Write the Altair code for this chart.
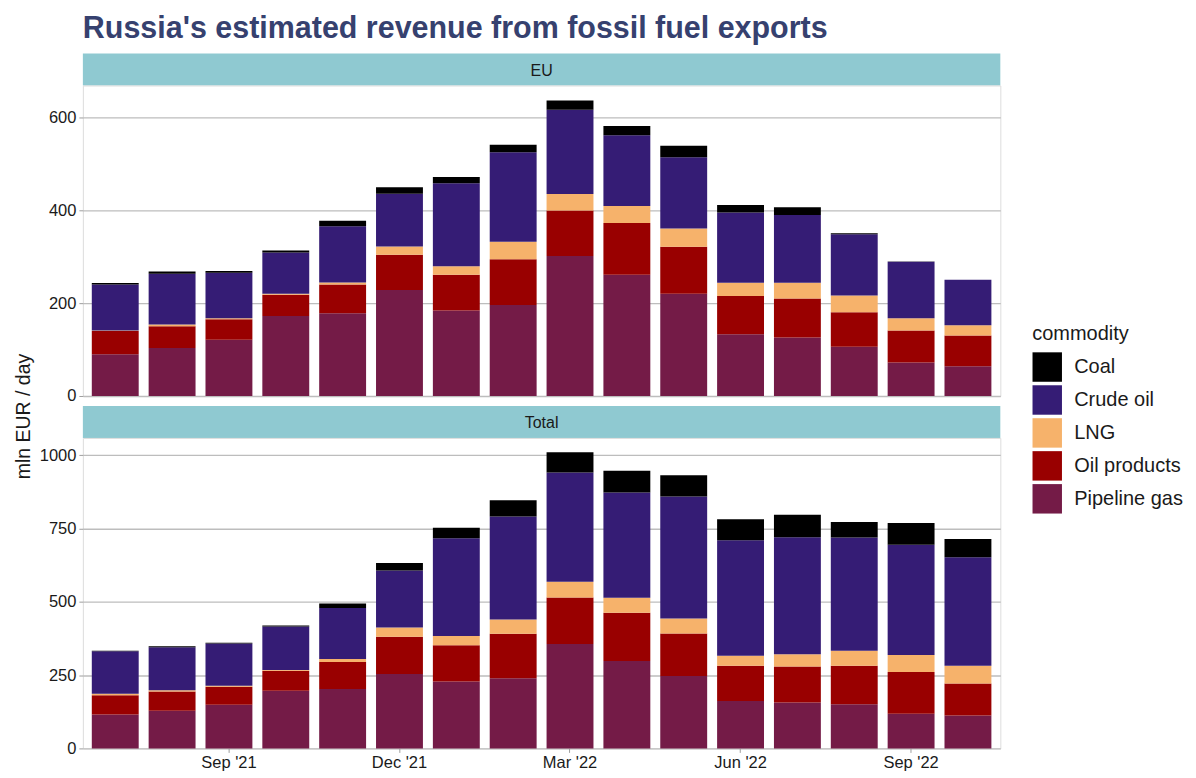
import altair as alt
import pandas as pd

months = ["Jul '21", "Aug '21", "Sep '21", "Oct '21", "Nov '21", "Dec '21",
          "Jan '22", "Feb '22", "Mar '22", "Apr '22", "May '22", "Jun '22",
          "Jul '22", "Aug '22", "Sep '22", "Oct '22"]
tick_months = ["Sep '21", "Dec '21", "Mar '22", "Jun '22", "Sep '22"]

commodities = ["Coal", "Crude oil", "LNG", "Oil products", "Pipeline gas"]
colors = ["#000000", "#351c75", "#f6b26b", "#990000", "#741b47"]
stack_rank = {"Pipeline gas": 0, "Oil products": 1, "LNG": 2, "Crude oil": 3, "Coal": 4}

# EU (mln EUR / day)
eu_pipeline = [90, 103, 121, 172, 178, 228, 184, 196, 301, 261, 220, 133, 126, 106, 72, 64]
eu_oilprod = [50, 47, 44, 46, 62, 76, 77, 98, 98, 111, 101, 82, 84, 74, 69, 66]
eu_lng = [1, 4, 2.5, 2, 4, 17.5, 18, 38, 35.5, 37, 39.5, 28.5, 33.5, 36, 26.5, 22]
eu_crude = [99, 109, 97.5, 89, 121, 113.5, 178.6, 192.5, 181.5, 152, 153, 151.5, 146, 132, 121.5, 98]
eu_coal = [3, 5, 4, 4, 12, 14, 13.4, 16, 20, 20, 25, 16, 16.5, 2, 0.5, 0]

# Total (mln EUR / day)
tot_pipeline = [115.6, 128, 148.5, 197, 203, 254, 228, 239, 356, 298, 247, 162, 156.5, 151, 118, 112]
tot_oilprod = [65.4, 66, 61.5, 68, 92, 127, 123.5, 152, 159, 164.6, 145, 120, 122.5, 131, 143, 109]
tot_lng = [5, 4, 4, 2.6, 10, 31.7, 31.5, 49, 53, 51, 51, 34, 42, 51, 57.6, 61]
tot_crude = [145, 147, 144, 148.4, 173.5, 194, 333.5, 351, 373, 359.4, 416, 394, 399, 386, 376.4, 370]
tot_coal = [2, 3, 2.5, 3.5, 15.5, 26, 36.5, 55, 69, 73.7, 73, 72, 77, 53, 73.7, 62]


def long_df(series):
    rows = []
    for name, vals in series.items():
        for m, v in zip(months, vals):
            rows.append({"month": m, "commodity": name, "value": v, "ord": stack_rank[name]})
    return pd.DataFrame(rows)


eu_df = long_df({"Pipeline gas": eu_pipeline, "Oil products": eu_oilprod, "LNG": eu_lng,
                 "Crude oil": eu_crude, "Coal": eu_coal})
tot_df = long_df({"Pipeline gas": tot_pipeline, "Oil products": tot_oilprod, "LNG": tot_lng,
                  "Crude oil": tot_crude, "Coal": tot_coal})

FONT = "Liberation Sans"
W = 919
PH = 311
SH = 32
GAP = 10
GRID = "#bdbdbd"
TXT = "#1a1a1a"
LBL = 16.5

color_enc = alt.Color(
    "commodity:N",
    scale=alt.Scale(domain=commodities, range=colors),
    legend=alt.Legend(
        title="commodity", orient="none", legendX=951, legendY=271,
        symbolType="square", symbolSize=870, symbolStrokeWidth=0, symbolOpacity=1,
        labelFontSize=20, titleFontSize=20, titleFontWeight="normal",
        labelFont=FONT, titleFont=FONT, labelColor=TXT, titleColor=TXT,
        rowPadding=3, titlePadding=8, labelOffset=12, padding=0,
    ),
)

x_scale = alt.Scale(paddingInner=0.175, paddingOuter=0.157)


def panel(df, domain_top, ticks, show_x, ytitle):
    x_axis = alt.Axis(
        values=tick_months, labelAngle=0, title=None, domain=False, grid=False,
        tickColor="#9e9e9e", tickSize=4, labelFontSize=LBL, labelFont=FONT,
        labelColor=TXT, labelPadding=2,
    ) if show_x else None
    y_kwargs = dict(
        values=ticks, grid=True, gridColor=GRID, gridWidth=1.3, domain=False,
        tickColor="#9e9e9e", tickSize=4, labelFontSize=LBL, labelFont=FONT,
        labelColor=TXT, labelPadding=3, format="d",
    )
    if ytitle:
        y_kwargs.update(title=ytitle, titleFontSize=19.5, titleFont=FONT, titleFontWeight="normal",
                        titleColor=TXT, titleX=-59, titleY=-22, titleAngle=270,
                        titleAlign="center", titleBaseline="middle")
    else:
        y_kwargs.update(title=None)
    return alt.Chart(df).mark_bar().encode(
        x=alt.X("month:N", sort=months, scale=x_scale, axis=x_axis),
        y=alt.Y("value:Q", stack="zero",
                scale=alt.Scale(domain=[0, domain_top], nice=False, zero=True),
                axis=alt.Axis(**y_kwargs)),
        color=color_enc,
        order=alt.Order("ord:Q", sort="ascending"),
    ).properties(width=W, height=PH)


def strip(label, top_gap):
    d = pd.DataFrame({"label": [label]})
    base = alt.Chart(d)
    rect = base.mark_rect(color="#8fc9d1").encode(
        x=alt.value(0), x2=alt.value(W), y=alt.value(top_gap), y2=alt.value(top_gap + SH))
    txt = base.mark_text(font=FONT, fontSize=16, color=TXT, align="center", baseline="middle").encode(
        x=alt.value(W / 2), y=alt.value(top_gap + SH / 2 + 1), text="label:N")
    return alt.layer(rect, txt).properties(width=W, height=top_gap + SH,
                                           view=alt.ViewBackground(stroke=None))


chart = alt.vconcat(
    strip("EU", 0),
    panel(eu_df, 668, [0, 200, 400, 600], False, None),
    strip("Total", GAP),
    panel(tot_df, 1059, [0, 250, 500, 750, 1000], True, "mln EUR / day"),
    spacing=0, bounds="flush",
).properties(
    title=alt.TitleParams(
        "Russia's estimated revenue from fossil fuel exports",
        anchor="start", fontSize=30.5, font=FONT, fontWeight="bold", color="#36416f",
        baseline="alphabetic", offset=-15, frame="group",
    ),
    padding={"left": 5, "top": 5, "right": 5, "bottom": 5},
).configure_view(stroke="#b3b3b3", strokeWidth=1.2).configure(background="white")

chart.save("out.html", embed_options={"renderer": "svg", "actions": False})
